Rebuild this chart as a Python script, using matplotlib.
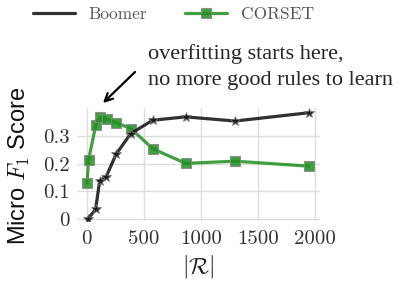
import matplotlib
matplotlib.use("Agg")
import matplotlib.pyplot as plt
import seaborn as sns

sns.set_style("whitegrid")
plt.rcParams['mathtext.fontset'] = 'cm'
plt.rcParams['axes.unicode_minus'] = False

# number of rules |R|
boomer_x = [10, 78, 114, 171, 257, 385, 578, 867, 1300, 1948]
boomer_y = [0.0, 0.035, 0.138, 0.153, 0.234, 0.308, 0.357, 0.369, 0.354, 0.384]

corset_x = [3, 16, 80, 118, 177, 258, 387, 579, 867, 1302, 1947]
corset_y = [0.129, 0.213, 0.339, 0.367, 0.360, 0.348, 0.327, 0.254, 0.201, 0.209, 0.191]

xticks = [0, 500, 1000, 1500, 2000]
yticks = [0, 0.1, 0.2, 0.3]
ytick_labels = ['0', '0.1', '0.2', '0.3']

fig = plt.figure(figsize=(4.01, 2.81), dpi=100)
ax = fig.add_axes([0.192, 0.2146, 0.606, 0.4])

ax.plot(corset_x, corset_y, color='#1f901f', marker='s', markersize=7,
        markeredgecolor='#888888', markeredgewidth=0.8, linewidth=2.3,
        alpha=0.85, label='CORSET', zorder=2)
ax.plot(boomer_x, boomer_y, color='#1a1a1a', marker='*', markersize=7.5,
        markeredgecolor='#777777', markeredgewidth=0.6, linewidth=2.3,
        alpha=0.9, label='Boomer', zorder=3)

ax.set_xlim(-85, 2045)
ax.set_ylim(-0.006, 0.4)
ax.set_xticks(xticks)
ax.set_xticklabels([str(t) for t in xticks], fontfamily='cmr10', fontsize=15, color='#333333')
ax.set_yticks(yticks)
ax.set_yticklabels(ytick_labels, fontfamily='cmr10', fontsize=15, color='#333333')
ax.tick_params(axis='y', length=0, pad=5)
ax.tick_params(axis='x', length=0, pad=7)
for s in ax.spines.values():
    s.set_visible(False)
ax.grid(color='#dddddd', linewidth=1.0)

ax.set_xlabel(r'$|\mathcal{R}|$', fontsize=17, labelpad=3, color='#222222')
fig.text(19 / 401, 1 - 166 / 281, r'Micro $F_1$ Score', fontsize=17, fontfamily='Liberation Sans',
         rotation=90, ha='center', va='center', color='#111111')

handles, labels = ax.get_legend_handles_labels()
leg = fig.legend([handles[1], handles[0]], [labels[1], labels[0]], loc='center left',
                 bbox_to_anchor=(33 / 401, 1 - 14 / 281), ncol=2, frameon=False,
                 prop={'family': 'cmr10', 'size': 12.5}, handlelength=2.4,
                 columnspacing=2.2, handletextpad=0.8, borderpad=0, borderaxespad=0)
for t in leg.get_texts():
    t.set_color('#555555')
leg.legend_handles[0].set_marker('')

# annotation (pixel positions measured from the top of the figure)
fig.text(148 / 401, 1 - 59 / 281, 'overfitting starts here,', fontfamily='Liberation Serif',
         fontsize=16, ha='left', va='baseline')
fig.text(148 / 401, 1 - 85 / 281, 'no more good rules to learn', fontfamily='Liberation Serif',
         fontsize=16, ha='left', va='baseline')
ax.annotate('', xy=(103 / 401, 1 - 103 / 281), xycoords='figure fraction',
            xytext=(135 / 401, 1 - 72 / 281), textcoords='figure fraction',
            arrowprops=dict(arrowstyle='->', color='black', lw=1.6,
                            shrinkA=0, shrinkB=0, mutation_scale=14))

fig.savefig('out.png', dpi=100)
